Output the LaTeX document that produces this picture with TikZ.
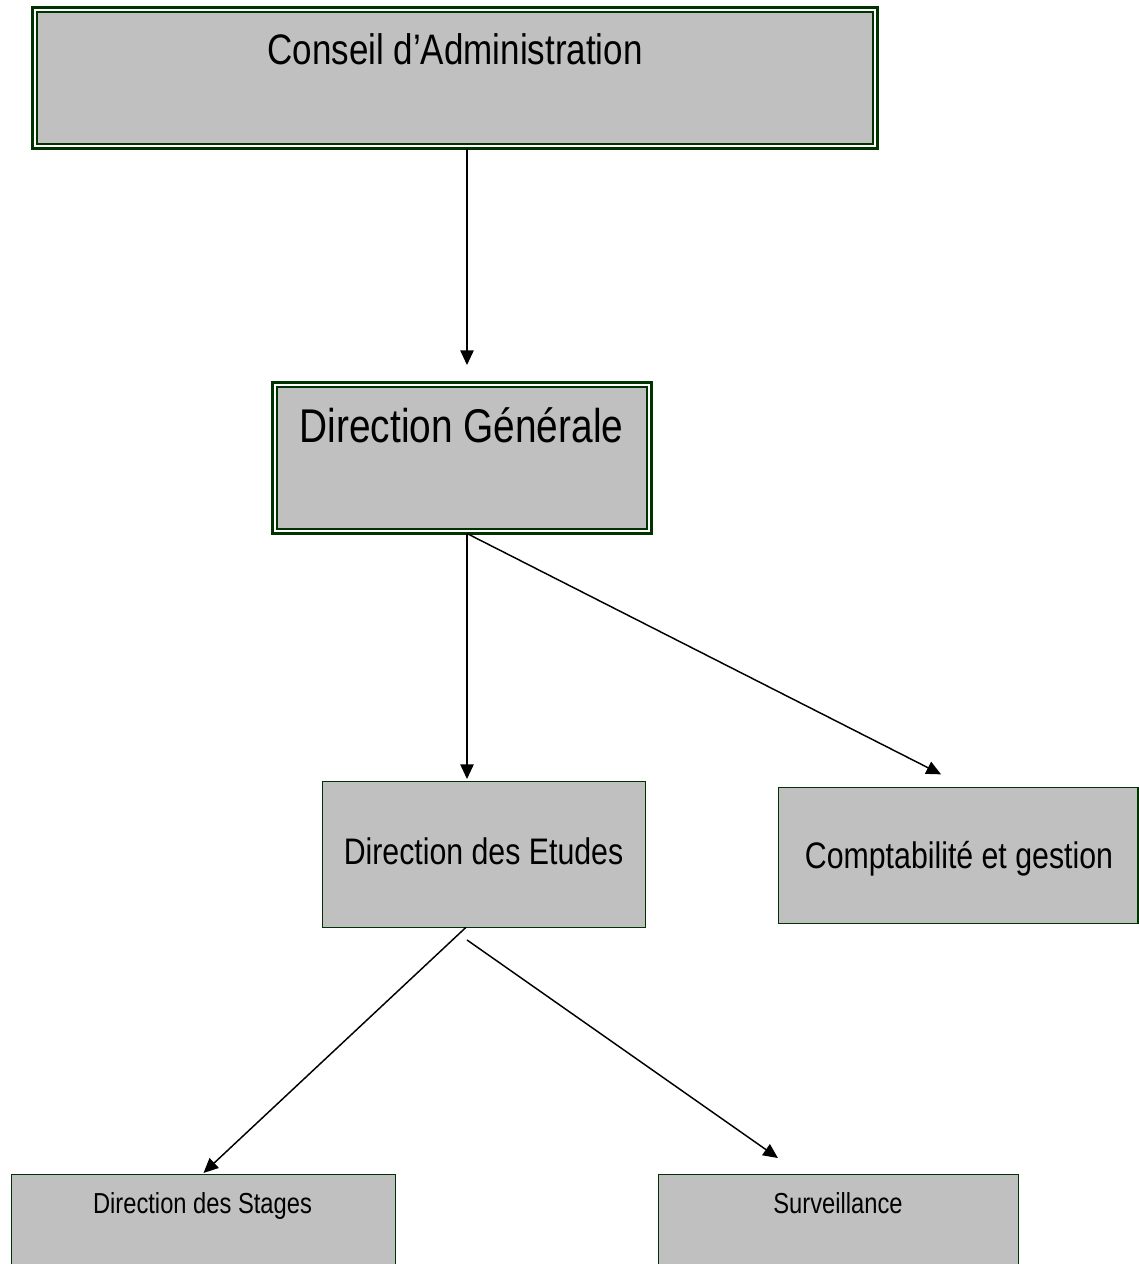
\documentclass[tikz,border=0pt]{standalone}
\usepackage{fontspec}
\setmainfont{Liberation Sans}[FakeStretch=0.82]
\usetikzlibrary{arrows.meta}
\definecolor{dkgreen}{RGB}{0,51,0}
\definecolor{silverfill}{RGB}{192,192,192}
\tikzset{
  dblbox/.style={draw=dkgreen, fill=white, line width=2.25pt, outer sep=0pt, inner sep=0pt, rectangle},
  sglbox/.style={draw=dkgreen, fill=silverfill, line width=1pt, outer sep=0pt, inner sep=0pt, rectangle},
  inner/.style={draw=dkgreen, fill=silverfill, line width=1.9pt},
  lbl/.style={anchor=base, inner sep=0pt, text=black},
  arr/.style={draw=black, line width=1.1pt, -{Triangle[length=11pt,width=10pt]}},
}
\begin{document}
\begin{tikzpicture}[x=0.75pt,y=-0.75pt]
\useasboundingbox (0,0) rectangle (1139,1264);
% Conseil d'Administration
\node[dblbox, minimum width=845*0.75pt, minimum height=141*0.75pt] (ca) at (455,78) {};
\draw[inner] ([shift={(3.4pt,-3.4pt)}]ca.north west) rectangle ([shift={(-3.4pt,3.4pt)}]ca.south east);
\node[lbl, font=\fontsize{32}{38}\selectfont] (cat) at (455,64.3) {Conseil d’Administration};
% Direction Generale
\node[dblbox, minimum width=379*0.75pt, minimum height=151*0.75pt] (dg) at (462,458) {};
\draw[inner] ([shift={(3.4pt,-3.4pt)}]dg.north west) rectangle ([shift={(-3.4pt,3.4pt)}]dg.south east);
\node[lbl, font=\fontsize{35.5}{42}\selectfont] (dgt) at (461.5,442.7) {Direction Générale};
% Direction des Etudes
\node[sglbox, minimum width=322.6*0.75pt, minimum height=145.6*0.75pt] (de) at (484,854.5) {};
\node[lbl, font=\fontsize{27.7}{33}\selectfont] (det) at (483.5,864) {Direction des Etudes};
% Comptabilite et gestion
\node[sglbox, minimum width=359.3*0.75pt, minimum height=135.6*0.75pt] (cg) at (958.4,855.5) {};
\node[lbl, font=\fontsize{27.7}{33}\selectfont] (cgt) at (959,868) {Comptabilité et gestion};
% Direction des Stages
\node[sglbox, minimum width=383.6*0.75pt, minimum height=120*0.75pt] (ds) at (203.5,1234.7) {};
\node[lbl, font=\fontsize{21.7}{26}\selectfont] (dst) at (202.5,1213) {Direction des Stages};
% Surveillance
\node[sglbox, minimum width=359.6*0.75pt, minimum height=120*0.75pt] (sv) at (838.5,1234.7) {};
\node[lbl, font=\fontsize{21.7}{26}\selectfont] (svt) at (838,1213) {Surveillance};
% connectors
\draw[arr] ([xshift=9pt]ca.south) -- ([xshift=3.75pt,yshift=13.1pt]dg.north);
\draw[arr] ([xshift=3.75pt]dg.south) -- ([xshift=-12.75pt,yshift=2pt]de.north);
\draw[arr] ([xshift=3.75pt]dg.south) -- ([xshift=-13pt,yshift=10pt]cg.north);
\draw[arr] ([xshift=-13.5pt]de.south) -- ([yshift=1.3pt]ds.north);
\draw[arr] ([xshift=-12.75pt,yshift=-9.5pt]de.south) -- ([xshift=-45.4pt,yshift=12.5pt]sv.north);
\end{tikzpicture}
\end{document}
